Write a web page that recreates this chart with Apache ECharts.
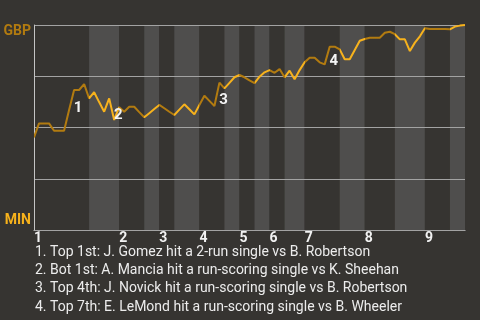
<!DOCTYPE html>
<html>
<head>
<meta charset="utf-8">
<script src="https://cdn.jsdelivr.net/npm/echarts@6/dist/echarts.min.js"></script>
<style>
  html, body { margin: 0; padding: 0; background: #363431; }
  #chart { width: 480px; height: 320px; }
</style>
</head>
<body>
<div id="chart"></div>
<script>
// Win probability (0 = MIN, 100 = GBP), one value per play
const winProb = [
  45.2, 52.0, 52.0, 52.0, 48.4, 48.4, 48.4, 58.5, 68.3, 68.3,
  71.2, 64.2, 67.2, 62.4, 57.7, 64.2, 53.7, 59.9, 57.7, 60.1,
  60.1, 57.5, 55.0, 57.0, 59.0, 61.0, 59.4, 57.7, 56.1, 58.7,
  61.3, 58.9, 56.4, 61.0, 65.5, 63.0, 60.5, 71.9, 69.1, 71.8,
  74.5, 75.6, 74.5, 73.0, 71.6, 74.8, 76.9, 78.0, 76.7, 78.5,
  74.5, 77.7, 73.5, 78.0, 81.8, 84.0, 84.0, 81.8, 80.8, 89.4,
  89.4, 88.1, 83.3, 83.3, 87.8, 92.3, 93.2, 93.8, 93.8, 93.8,
  96.2, 96.7, 95.5, 93.0, 93.0, 87.3, 91.4, 94.5, 98.4, 98.0,
  98.0, 98.0, 98.0, 97.9, 99.2, 99.7, 100.0
];
const plays = winProb.map((_, i) => String(i));

// play index where each half-inning starts (and the final play)
const halfInningBounds = [0, 11, 17, 22, 25, 28, 33, 38, 41, 44, 47, 50, 54, 61, 66, 72, 78, 83, 86];
const inningStarts = [0, 17, 25, 33, 41, 47, 54, 66, 78];
const inningLabels = ['1', '2', '3', '4', '5', '6', '7', '8', '9'];

const yTickLabels = { 100: 'GBP', 0: 'MIN' };

const notePlays = [8, 16, 37, 59];
const noteLabels = ['1', '2', '3', '4'];
const noteTexts = [
  '1. Top 1st: J. Gomez hit a 2-run single vs B. Robertson',
  '2. Bot 1st: A. Mancia hit a run-scoring single vs K. Sheehan',
  '3. Top 4th: J. Novick hit a run-scoring single vs B. Robertson',
  '4. Top 7th: E. LeMond hit a run-scoring single vs B. Wheeler'
];

const TOP_COLOR = '#b27b10';
const BOT_COLOR = '#f7b21c';
const noteOffsets = [[4, 18], [4, -5], [4, 18], [4, 15]];

const pieces = [];
for (let i = 0; i < halfInningBounds.length - 1; i++) {
  const p = { gte: halfInningBounds[i], color: i % 2 === 0 ? TOP_COLOR : BOT_COLOR };
  if (i === halfInningBounds.length - 2) p.lte = halfInningBounds[i + 1];
  else p.lt = halfInningBounds[i + 1];
  pieces.push(p);
}

const chart = echarts.init(document.getElementById('chart'), null, { renderer: 'canvas' });
chart.setOption({
  backgroundColor: '#363431',
  animation: false,
  textStyle: { fontFamily: 'Roboto' },
  title: {
    text: noteTexts.join('\n'),
    left: 35,
    top: 243,
    padding: 0,
    textStyle: {
      color: '#ececec',
      fontSize: 14,
      fontWeight: 'normal',
      fontFamily: 'Roboto',
      lineHeight: 18.3
    }
  },
  grid: { left: 34, right: 15, top: 25, bottom: 90, containLabel: false },
  xAxis: {
    type: 'category',
    z: 0,
    data: plays,
    boundaryGap: false,
    axisLine: { show: true, lineStyle: { color: '#cfcfcf', width: 1 } },
    axisTick: { show: false },
    splitLine: { show: false },
    splitArea: {
      show: true,
      interval: (index) => halfInningBounds.includes(index),
      areaStyle: { color: ['#363431', '#4f4e4d'] }
    },
    axisLabel: {
      interval: (index) => inningStarts.includes(index),
      formatter: (value) => {
        const k = inningStarts.indexOf(Number(value));
        return k >= 0 ? inningLabels[k] : '';
      },
      align: 'left',
      margin: 1,
      color: '#f2f2f2',
      fontSize: 14,
      fontWeight: 'bold',
      fontFamily: 'Roboto'
    }
  },
  yAxis: {
    type: 'value',
    z: 1,
    min: 0,
    max: 100,
    interval: 25,
    axisLine: { show: true, lineStyle: { color: '#c4c4c4', width: 1 } },
    axisTick: { show: false },
    splitLine: { show: true, lineStyle: { color: '#a3a3a3', width: 1 } },
    axisLabel: {
      margin: 3,
      fontSize: 14,
      fontWeight: 'bold',
      fontFamily: 'Roboto',
      formatter: (v) => {
        if (v === 100) return '{g|' + yTickLabels[100] + '}';
        if (v === 0) return '{m|' + yTickLabels[0] + '}';
        return '';
      },
      rich: {
        g: { color: TOP_COLOR, fontSize: 14, fontWeight: 'bold', fontFamily: 'Roboto', padding: [12, 0, 0, 0] },
        m: { color: BOT_COLOR, fontSize: 14, fontWeight: 'bold', fontFamily: 'Roboto', padding: [0, 0, 20, 0] }
      }
    }
  },
  visualMap: {
    type: 'piecewise',
    show: false,
    dimension: 0,
    seriesIndex: 0,
    pieces: pieces
  },
  series: [{
    type: 'line',
    data: winProb,
    showSymbol: false,
    symbol: 'none',
    lineStyle: { width: 2 },
    z: 3,
    markPoint: {
      symbol: 'circle',
      symbolSize: 1,
      itemStyle: { color: 'rgba(0,0,0,0)' },
      label: {
        show: true,
        position: 'inside',
        color: '#f4f4f4',
        fontSize: 15,
        fontWeight: 'bold',
        fontFamily: 'Roboto'
      },
      data: notePlays.map((p, i) => ({
        coord: [p, winProb[p]],
        value: noteLabels[i],
        label: { formatter: noteLabels[i], offset: noteOffsets[i] }
      }))
    }
  }]
});
</script>
</body>
</html>
